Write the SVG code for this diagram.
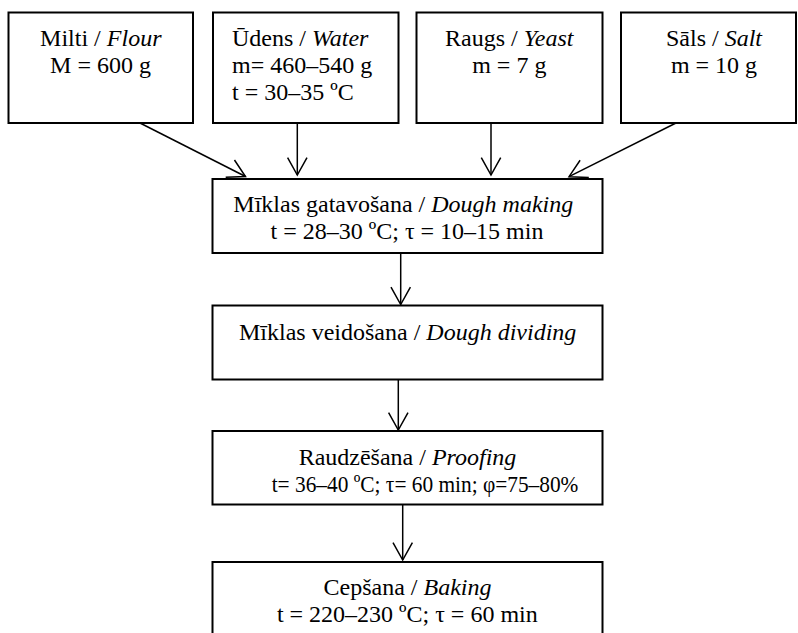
<svg xmlns="http://www.w3.org/2000/svg" width="798" height="633" viewBox="0 0 798 633">
<style>
.box{fill:#fff;stroke:#000;stroke-width:2}
text{font-family:"Liberation Serif","Times New Roman",serif;font-size:24px;fill:#000}
.c{text-anchor:middle}
.i{font-style:italic}
.ln{stroke:#000;stroke-width:1.5;fill:none}
</style>
<defs>
<marker id="ah" markerUnits="userSpaceOnUse" markerWidth="24" markerHeight="24" viewBox="-20 -12 22 24" refX="0" refY="0" orient="auto">
<path d="M-17.3,-9.7 L0,0 L-17.3,9.7" fill="none" stroke="#000" stroke-width="1.5"/>
</marker>
</defs>
<rect width="798" height="633" fill="#fff"/>
<g id="connectors">
<line class="ln" x1="140" y1="123" x2="245.5" y2="176.5" marker-end="url(#ah)"/>
<line class="ln" x1="297.3" y1="123" x2="297.3" y2="175" marker-end="url(#ah)"/>
<line class="ln" x1="491" y1="123" x2="491" y2="175" marker-end="url(#ah)"/>
<line class="ln" x1="676" y1="123" x2="569" y2="176.7" marker-end="url(#ah)"/>
<line class="ln" x1="400.7" y1="253" x2="400.7" y2="304.5" marker-end="url(#ah)"/>
<line class="ln" x1="398.3" y1="379.5" x2="398.3" y2="430" marker-end="url(#ah)"/>
<line class="ln" x1="402.7" y1="505" x2="402.7" y2="560" marker-end="url(#ah)"/>
</g>
<g id="flour">
<rect class="box" x="8.5" y="12.5" width="184.5" height="110.5"/>
<text class="c" x="100.8" y="46">Milti / <tspan class="i">Flour</tspan></text>
<text class="c" x="100.5" y="73">M = 600 g</text>
</g>
<g id="water">
<rect class="box" x="213" y="12.5" width="185.5" height="110.5"/>
<text x="232" y="46">Ūdens / <tspan class="i">Water</tspan></text>
<text x="232" y="73">m= 460–540 g</text>
<text x="232" y="100">t = 30–35 ºC</text>
</g>
<g id="yeast">
<rect class="box" x="416.5" y="12.5" width="186" height="110.5"/>
<text class="c" x="509.3" y="46">Raugs / <tspan class="i">Yeast</tspan></text>
<text class="c" x="509.3" y="73">m = 7 g</text>
</g>
<g id="salt">
<rect class="box" x="621" y="12.5" width="175" height="110.5"/>
<text class="c" x="714" y="46">Sāls / <tspan class="i">Salt</tspan></text>
<text class="c" x="714" y="73">m = 10 g</text>
</g>
<g id="dough-making">
<rect class="box" x="212.5" y="179" width="390" height="74"/>
<text class="c" x="403.3" y="211.5">Mīklas gatavošana / <tspan class="i">Dough making</tspan></text>
<text class="c" x="407" y="238.5">t = 28–30 ºC; τ = 10–15 min</text>
</g>
<g id="dough-dividing">
<rect class="box" x="212.5" y="305.5" width="390" height="74"/>
<text class="c" x="407.7" y="340">Mīklas veidošana / <tspan class="i">Dough dividing</tspan></text>
</g>
<g id="proofing">
<rect class="box" x="212.5" y="431" width="390" height="73.5"/>
<text class="c" x="407.5" y="465">Raudzēšana / <tspan class="i">Proofing</tspan></text>
<text x="271.7" y="491.5" textLength="306.7" lengthAdjust="spacingAndGlyphs">t= 36–40 ºC; τ= 60 min; φ=75–80%</text>
</g>
<g id="baking">
<rect class="box" x="212.5" y="562" width="390" height="100"/>
<text class="c" x="407.5" y="595">Cepšana / <tspan class="i">Baking</tspan></text>
<text class="c" x="407.3" y="621.5">t = 220–230 ºC; τ = 60 min</text>
</g>
</svg>
